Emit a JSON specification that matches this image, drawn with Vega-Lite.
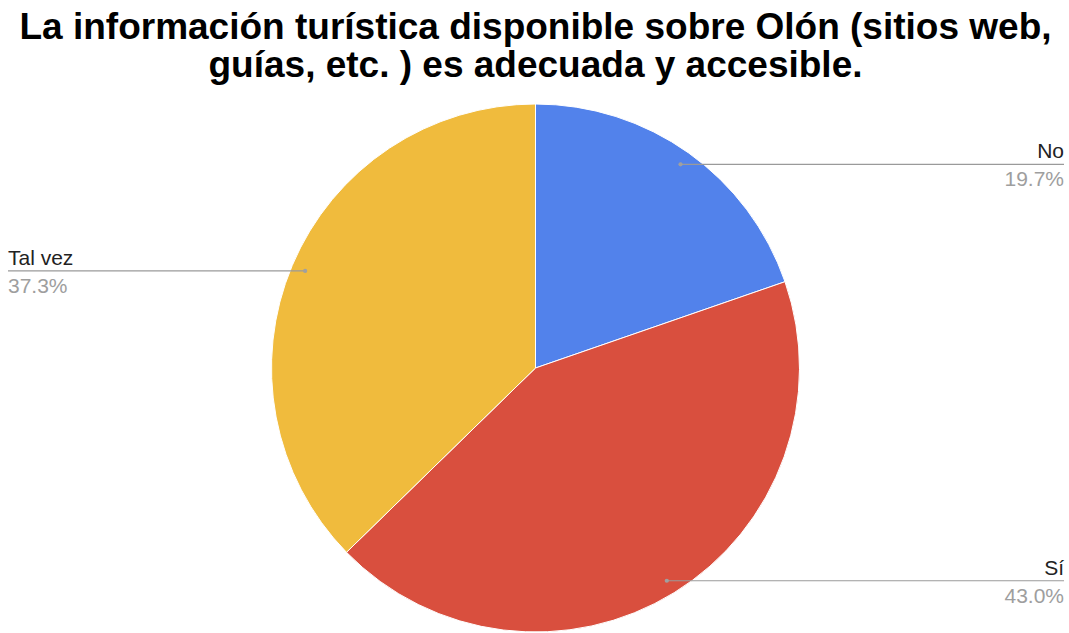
{
  "$schema": "https://vega.github.io/schema/vega-lite/v6.json",
  "width": 1067,
  "height": 528,
  "autosize": {"type": "none"},
  "padding": {"top": 104, "left": 2, "right": 0, "bottom": 1},
  "background": "white",
  "config": {"view": {"stroke": null}},
  "title": {
    "text": ["La información turística disponible sobre Olón (sitios web,", "guías, etc. ) es adecuada y accesible."],
    "font": "Liberation Sans",
    "fontSize": 37,
    "fontWeight": "bold",
    "color": "#000000",
    "anchor": "middle",
    "lineHeight": 38,
    "offset": 17
  },
  "data": {
    "values": [
      {"respuesta": "No", "pct": 19.7},
      {"respuesta": "Sí", "pct": 43.0},
      {"respuesta": "Tal vez", "pct": 37.3}
    ]
  },
  "transform": [
    {"window": [{"op": "sum", "field": "pct", "as": "cum"}], "sort": [{"field": "respuesta"}]},
    {"calculate": "(datum.cum - datum.pct / 2) / 100 * 2 * PI", "as": "mid"},
    {"calculate": "250 * sin(datum.mid)", "as": "dx"},
    {"calculate": "250 * cos(datum.mid)", "as": "dy"},
    {"calculate": "datum.mid < PI ? 528.5 : -527.5", "as": "ex"},
    {"calculate": "format(datum.pct, '.1f') + '%'", "as": "label"}
  ],
  "layer": [
    {
      "mark": {"type": "arc", "outerRadius": 264, "stroke": "white", "strokeWidth": 1},
      "encoding": {
        "theta": {"field": "pct", "type": "quantitative", "stack": true},
        "order": {"field": "respuesta", "type": "nominal"},
        "color": {
          "field": "respuesta",
          "type": "nominal",
          "scale": {"domain": ["No", "Sí", "Tal vez"], "range": ["#5282eb", "#d94f3e", "#f0bb3d"]},
          "legend": null
        }
      }
    },
    {
      "mark": {"type": "rule", "color": "#9a9a9a", "strokeWidth": 1.2},
      "encoding": {
        "x": {"field": "dx", "type": "quantitative", "scale": {"domain": [-533.5, 533.5], "nice": false, "zero": false}, "axis": null},
        "x2": {"field": "ex"},
        "y": {"field": "dy", "type": "quantitative", "scale": {"domain": [-264, 264], "nice": false, "zero": false}, "axis": null}
      }
    },
    {
      "mark": {"type": "point", "filled": true, "size": 18, "color": "#a0a0a0", "opacity": 1},
      "encoding": {
        "x": {"field": "dx", "type": "quantitative"},
        "y": {"field": "dy", "type": "quantitative"}
      }
    },
    {
      "transform": [{"filter": "datum.mid < PI"}],
      "layer": [
        {
          "mark": {"type": "text", "align": "right", "baseline": "alphabetic", "dy": -6, "font": "Liberation Sans", "fontSize": 21, "color": "#222222"},
          "encoding": {
            "x": {"field": "ex", "type": "quantitative"},
            "y": {"field": "dy", "type": "quantitative"},
            "text": {"field": "respuesta"}
          }
        },
        {
          "mark": {"type": "text", "align": "right", "baseline": "alphabetic", "dy": 22, "font": "Liberation Sans", "fontSize": 21, "color": "#9e9e9e"},
          "encoding": {
            "x": {"field": "ex", "type": "quantitative"},
            "y": {"field": "dy", "type": "quantitative"},
            "text": {"field": "label"}
          }
        }
      ]
    },
    {
      "transform": [{"filter": "datum.mid >= PI"}],
      "layer": [
        {
          "mark": {"type": "text", "align": "left", "baseline": "alphabetic", "dy": -6, "font": "Liberation Sans", "fontSize": 21, "color": "#222222"},
          "encoding": {
            "x": {"field": "ex", "type": "quantitative"},
            "y": {"field": "dy", "type": "quantitative"},
            "text": {"field": "respuesta"}
          }
        },
        {
          "mark": {"type": "text", "align": "left", "baseline": "alphabetic", "dy": 22, "font": "Liberation Sans", "fontSize": 21, "color": "#9e9e9e"},
          "encoding": {
            "x": {"field": "ex", "type": "quantitative"},
            "y": {"field": "dy", "type": "quantitative"},
            "text": {"field": "label"}
          }
        }
      ]
    }
  ]
}
